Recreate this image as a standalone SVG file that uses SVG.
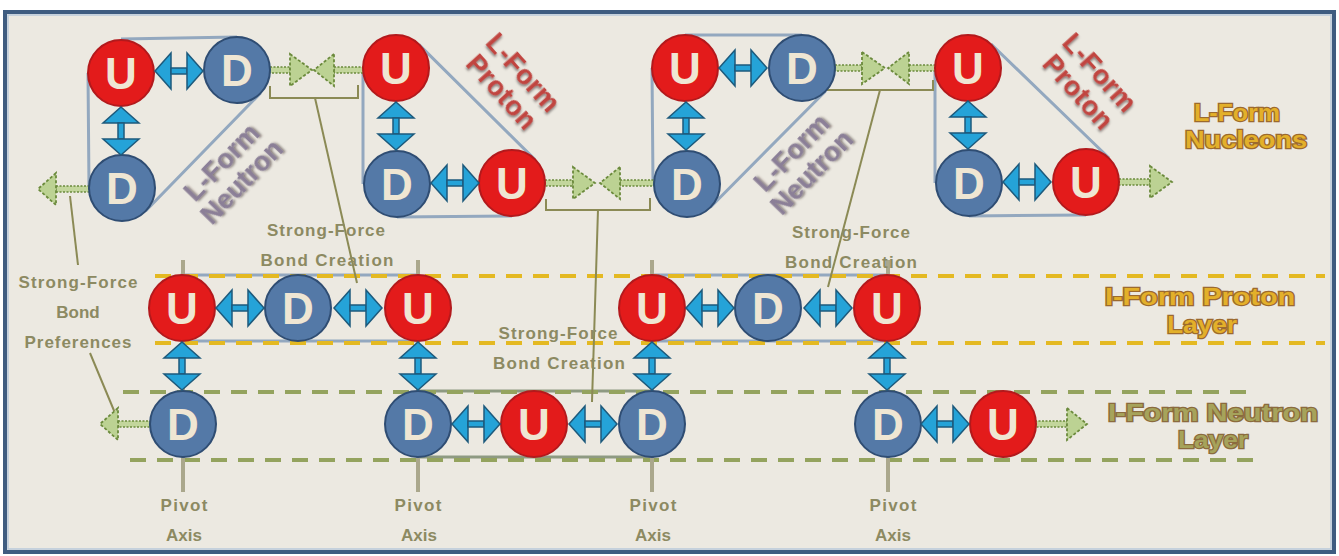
<svg xmlns="http://www.w3.org/2000/svg" xmlns:xlink="http://www.w3.org/1999/xlink" width="1339" height="556" viewBox="0 0 1339 556">
<defs>
<style>
.lt{font-family:"Liberation Sans",Arial,sans-serif;font-weight:bold;font-size:44px;fill:#efe6d3;text-anchor:middle}
.u{fill:#e31b1b;stroke:#b3191c;stroke-width:2}
.d{fill:#5479a7;stroke:#2f4d73;stroke-width:2}
.hull{fill:none;stroke:#93a8bf;stroke-width:3}
.hull3{fill:none;stroke:#8e9a82;stroke-width:3}
.ydash{stroke:#e4b922;stroke-width:4;stroke-dasharray:16 11}
.gdash{stroke:#94a35e;stroke-width:4;stroke-dasharray:16 11}
.pivot{stroke:#aaa78c;stroke-width:4}
.brk{stroke:#8b8a55;stroke-width:2;fill:none}
.gs{fill:#c3d69c;stroke:#6b8a3c;stroke-width:1.5;stroke-dasharray:2 1.5}
.gh{fill:#bcd293;stroke:#6b8a3c;stroke-width:1.8;stroke-dasharray:3 2}
.ba{fill:#25a3d8;stroke:#1d5a7c;stroke-width:1.5}
.lbl{font-family:"Liberation Sans",Arial,sans-serif;font-weight:bold;font-size:17px;fill:#8c8a62;text-anchor:middle}
.rp{font-family:"Liberation Sans",Arial,sans-serif;font-weight:bold;font-size:27px;fill:#c1443f;text-anchor:middle;filter:url(#sh)}
.rn{font-family:"Liberation Sans",Arial,sans-serif;font-weight:bold;font-size:27px;fill:#8b7f97;text-anchor:middle;filter:url(#sh)}
.gold{font-family:"Liberation Sans",Arial,sans-serif;font-weight:bold;font-size:23px;fill:#e3b02a;stroke:#9c6a2e;stroke-width:2.5;paint-order:stroke;text-anchor:middle}
.olv{font-family:"Liberation Sans",Arial,sans-serif;font-weight:bold;font-size:23px;fill:#a6a35b;stroke:#8b6b3d;stroke-width:2.5;paint-order:stroke;text-anchor:middle}
</style>
<filter id="sh" x="-20%" y="-20%" width="140%" height="140%"><feDropShadow dx="1.5" dy="1.5" stdDeviation="1" flood-color="#3b2b2b" flood-opacity="0.6"/></filter>
<g id="dbl"><polygon class="ba" points="-24,0 -8,-18 -8,18"/><rect class="ba" x="-8" y="-3" width="16" height="6"/><polygon class="ba" points="24,0 8,-18 8,18"/></g>
</defs>
<rect x="0" y="0" width="1339" height="556" fill="#ffffff"/>
<rect x="5" y="12" width="1329" height="540" fill="#ece9e1" stroke="#3f5c80" stroke-width="4"/>
<rect x="8" y="15" width="1323" height="534" fill="none" stroke="#b9c9da" stroke-width="1.5"/>

<g id="hulls">
<path class="hull" d="M121,39 L237,37 M88,73 L89,188 M260.6,93 L145.6,211"/>
<path class="hull" d="M363,68 L363,184 M397,217 L512,216 M419,44.6 L535,159.6"/>
<path class="hull" d="M685,35 L802,35 M652,68 L653,184 M825.4,91.2 L710.4,207.2"/>
<path class="hull" d="M935,68 L935,183 M969,216 L1086,215 M991,44 L1109,158"/>
<rect class="hull" x="182" y="275" width="236" height="66"/>
<rect class="hull" x="652" y="275" width="235" height="66"/>
<rect class="hull3" x="418" y="391" width="234" height="66"/>
</g>

<g id="layers">
<line class="ydash" x1="155" y1="276" x2="1325" y2="276"/>
<line class="ydash" x1="155" y1="343" x2="1325" y2="343"/>
<line class="gdash" x1="123" y1="392" x2="1255" y2="392"/>
<line class="gdash" x1="130" y1="460" x2="1260" y2="460"/>
</g>

<g id="pivots">
<line class="pivot" x1="183" y1="260" x2="183" y2="492"/>
<line class="pivot" x1="418" y1="260" x2="418" y2="492"/>
<line class="pivot" x1="652" y1="260" x2="652" y2="492"/>
<line class="pivot" x1="888" y1="260" x2="888" y2="492"/>
</g>

<g id="connectors">
<polyline class="brk" points="270,86 270,98 358,98 358,85"/>
<line class="brk" x1="315" y1="98" x2="357" y2="283"/>
<polyline class="brk" points="546,199 546,210 650,210 650,198"/>
<line class="brk" x1="598" y1="210" x2="592" y2="402"/>
<polyline class="brk" points="826,84 826,90 933,90 933,80"/>
<line class="brk" x1="880" y1="90" x2="828" y2="287"/>
<line class="brk" x1="70" y1="196" x2="78" y2="265"/>
<line class="brk" x1="90" y1="353" x2="115" y2="413"/>

<rect class="gs" x="270" y="67" width="20" height="6"/><polygon class="gh" points="290,54 312,70 290,86"/>
<rect class="gs" x="334" y="67" width="29" height="6"/><polygon class="gh" points="334,54 314,70 334,86"/>
<rect class="gs" x="56" y="186" width="33" height="6"/><polygon class="gh" points="56,173 38,189 56,205"/>
<rect class="gs" x="545" y="180" width="28" height="6"/><polygon class="gh" points="573,167 595,183 573,199"/>
<rect class="gs" x="620" y="180" width="34" height="6"/><polygon class="gh" points="620,167 600,183 620,199"/>
<rect class="gs" x="835" y="65" width="27" height="6"/><polygon class="gh" points="862,52 885,68 862,84"/>
<rect class="gs" x="909" y="65" width="26" height="6"/><polygon class="gh" points="909,52 888,68 909,84"/>
<rect class="gs" x="1119" y="179" width="31" height="6"/><polygon class="gh" points="1150,166 1172,182 1150,198"/>
<rect class="gs" x="118" y="421" width="32" height="6"/><polygon class="gh" points="118,408 100,424 118,440"/>
<rect class="gs" x="1035" y="421" width="32" height="6"/><polygon class="gh" points="1067,408 1087,424 1067,440"/>
</g>

<g id="n1U"><circle class="u" cx="121" cy="73" r="33"/><text class="lt" x="121" y="89">U</text></g>
<g id="n1Dr"><circle class="d" cx="237" cy="70" r="33"/><text class="lt" x="237" y="86">D</text></g>
<g id="n1Db"><circle class="d" cx="122" cy="188" r="33"/><text class="lt" x="122" y="204">D</text></g>
<g id="n2U"><circle class="u" cx="396" cy="68" r="33"/><text class="lt" x="396" y="84">U</text></g>
<g id="n2D"><circle class="d" cx="397" cy="184" r="33"/><text class="lt" x="397" y="200">D</text></g>
<g id="n2Ur"><circle class="u" cx="512" cy="183" r="33"/><text class="lt" x="512" y="199">U</text></g>
<g id="n3U"><circle class="u" cx="685" cy="68" r="33"/><text class="lt" x="685" y="84">U</text></g>
<g id="n3Dr"><circle class="d" cx="802" cy="68" r="33"/><text class="lt" x="802" y="84">D</text></g>
<g id="n3Db"><circle class="d" cx="687" cy="184" r="33"/><text class="lt" x="687" y="200">D</text></g>
<g id="n4U"><circle class="u" cx="968" cy="68" r="33"/><text class="lt" x="968" y="84">U</text></g>
<g id="n4D"><circle class="d" cx="969" cy="183" r="33"/><text class="lt" x="969" y="199">D</text></g>
<g id="n4Ur"><circle class="u" cx="1086" cy="182" r="33"/><text class="lt" x="1086" y="198">U</text></g>

<g id="p1U"><circle class="u" cx="182" cy="308" r="33"/><text class="lt" x="182" y="324">U</text></g>
<g id="p1D"><circle class="d" cx="298" cy="308" r="33"/><text class="lt" x="298" y="324">D</text></g>
<g id="p1U2"><circle class="u" cx="418" cy="308" r="33"/><text class="lt" x="418" y="324">U</text></g>
<g id="p2U"><circle class="u" cx="652" cy="308" r="33"/><text class="lt" x="652" y="324">U</text></g>
<g id="p2D"><circle class="d" cx="768" cy="308" r="33"/><text class="lt" x="768" y="324">D</text></g>
<g id="p2U2"><circle class="u" cx="887" cy="308" r="33"/><text class="lt" x="887" y="324">U</text></g>

<g id="q1D"><circle class="d" cx="183" cy="424" r="33"/><text class="lt" x="183" y="440">D</text></g>
<g id="q2D"><circle class="d" cx="418" cy="424" r="33"/><text class="lt" x="418" y="440">D</text></g>
<g id="q2U"><circle class="u" cx="534" cy="424" r="33"/><text class="lt" x="534" y="440">U</text></g>
<g id="q2D2"><circle class="d" cx="652" cy="424" r="33"/><text class="lt" x="652" y="440">D</text></g>
<g id="q3D"><circle class="d" cx="888" cy="424" r="33"/><text class="lt" x="888" y="440">D</text></g>
<g id="q3U"><circle class="u" cx="1003" cy="424" r="33"/><text class="lt" x="1003" y="440">U</text></g>

<g id="bonds">
<use xlink:href="#dbl" transform="translate(179,71)"/>
<use xlink:href="#dbl" transform="translate(121,131) rotate(90)"/>
<use xlink:href="#dbl" transform="translate(396,126) rotate(90)"/>
<use xlink:href="#dbl" transform="translate(455,183)"/>
<use xlink:href="#dbl" transform="translate(743,68)"/>
<use xlink:href="#dbl" transform="translate(686,126) rotate(90)"/>
<use xlink:href="#dbl" transform="translate(968,125) rotate(90)"/>
<use xlink:href="#dbl" transform="translate(1027,182)"/>
<use xlink:href="#dbl" transform="translate(240,308)"/>
<use xlink:href="#dbl" transform="translate(358,308)"/>
<use xlink:href="#dbl" transform="translate(710,308)"/>
<use xlink:href="#dbl" transform="translate(828,308)"/>
<use xlink:href="#dbl" transform="translate(182,366) rotate(90)"/>
<use xlink:href="#dbl" transform="translate(418,366) rotate(90)"/>
<use xlink:href="#dbl" transform="translate(652,366) rotate(90)"/>
<use xlink:href="#dbl" transform="translate(887,366) rotate(90)"/>
<use xlink:href="#dbl" transform="translate(476,424)"/>
<use xlink:href="#dbl" transform="translate(593,424)"/>
<use xlink:href="#dbl" transform="translate(945,424)"/>
</g>

<g id="labels">
<g transform="translate(231,171.5) rotate(-46)"><text class="rn" x="0" y="-4.5" textLength="95">L-Form</text><text class="rn" x="0" y="23.5" textLength="105">Neutron</text></g>
<g transform="translate(801,162) rotate(-46)"><text class="rn" x="0" y="-4.5" textLength="95">L-Form</text><text class="rn" x="0" y="23.5" textLength="105">Neutron</text></g>
<g transform="translate(512.5,82) rotate(48)"><text class="rp" x="0" y="-5" textLength="95">L-Form</text><text class="rp" x="0" y="24" textLength="90">Proton</text></g>
<g transform="translate(1089,82) rotate(48)"><text class="rp" x="0" y="-5" textLength="95">L-Form</text><text class="rp" x="0" y="24" textLength="90">Proton</text></g>

<text class="gold" x="1237" y="121" textLength="86" lengthAdjust="spacingAndGlyphs">L-Form</text>
<text class="gold" x="1246" y="148" textLength="122" lengthAdjust="spacingAndGlyphs">Nucleons</text>
<text class="gold" x="1200" y="305" textLength="190" lengthAdjust="spacingAndGlyphs">I-Form Proton</text>
<text class="gold" x="1202" y="333" textLength="70" lengthAdjust="spacingAndGlyphs">Layer</text>
<text class="olv" x="1213" y="421" textLength="210" lengthAdjust="spacingAndGlyphs">I-Form Neutron</text>
<text class="olv" x="1213" y="448" textLength="70" lengthAdjust="spacingAndGlyphs">Layer</text>

<text class="lbl" x="78" y="288" textLength="119">Strong-Force</text>
<text class="lbl" x="78" y="318">Bond</text>
<text class="lbl" x="78" y="348" textLength="107">Preferences</text>
<text class="lbl" x="326" y="236" textLength="118">Strong-Force</text>
<text class="lbl" x="327" y="266" textLength="133">Bond Creation</text>
<text class="lbl" x="558" y="339" textLength="119">Strong-Force</text>
<text class="lbl" x="559" y="369" textLength="132">Bond Creation</text>
<text class="lbl" x="851" y="238" textLength="118">Strong-Force</text>
<text class="lbl" x="851" y="268" textLength="132">Bond Creation</text>
<text class="lbl" x="184" y="511" textLength="47">Pivot</text>
<text class="lbl" x="184" y="541" textLength="36">Axis</text>
<text class="lbl" x="418" y="511" textLength="47">Pivot</text>
<text class="lbl" x="419" y="541" textLength="36">Axis</text>
<text class="lbl" x="653" y="511" textLength="47">Pivot</text>
<text class="lbl" x="653" y="541" textLength="36">Axis</text>
<text class="lbl" x="893" y="511" textLength="47">Pivot</text>
<text class="lbl" x="893" y="541" textLength="36">Axis</text>
</g>
</svg>
